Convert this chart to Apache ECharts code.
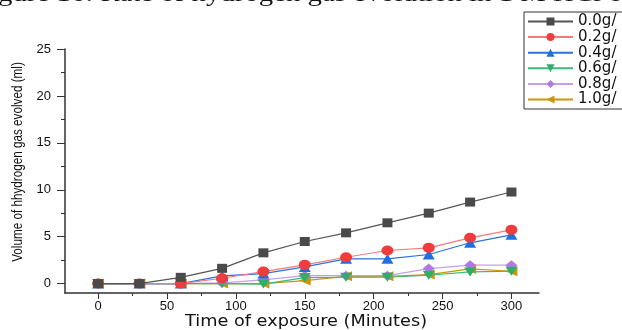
<!DOCTYPE html>
<html><head><meta charset="utf-8">
<script src="https://cdn.jsdelivr.net/npm/echarts@6/dist/echarts.min.js"></script>
<style>html,body{margin:0;padding:0;background:#fff;overflow:hidden}#c{width:622px;height:330px}</style>
</head><body><div id="c"></div>
<script>
const times = [0, 30, 60, 90, 120, 150, 180, 210, 240, 270, 300];
const seriesNames = ['0.0g/', '0.2g/', '0.4g/', '0.6g/', '0.8g/', '1.0g/'];
const s00 = [0, 0, 0.67, 1.63, 3.28, 4.49, 5.41, 6.48, 7.51, 8.69, 9.76];
const s02 = [0, 0, 0, 0.57, 1.28, 2.0, 2.81, 3.53, 3.81, 4.88, 5.73];
const s04 = [0, 0, 0, 0.82, 1.07, 1.78, 2.64, 2.64, 3.1, 4.35, 5.2];
const s06 = [0, 0, 0, 0, -0.05, 0.64, 0.68, 0.68, 0.89, 1.25, 1.32];
const s08 = [0, 0, 0, 0.07, 0.39, 0.85, 0.85, 0.85, 1.6, 1.96, 1.96];
const s10 = [0, 0, 0, 0, 0, 0.32, 0.78, 0.78, 0.96, 1.57, 1.32];
const xTicks = [0, 50, 100, 150, 200, 250, 300];
const xMinor = [25, 75, 125, 175, 225, 275];
const yTicks = [0, 5, 10, 15, 20, 25];
const yMinor = [2.5, 7.5, 12.5, 17.5, 22.5];
const titleText = 'gure 16: Rate of hydrogen gas evolution in 1 M HCl of';
const xName = 'Time of exposure (Minutes)';
const yName = 'Volume of hhydrogen gas evolved (ml)';

const values = [s00, s02, s04, s06, s08, s10];
const lineColors = ['#555555', '#f77a7a', '#2a72e0', '#3cb878', '#c49ef0', '#c9960c'];
const markColors = ['#4a4a4a', '#f03c3c', '#1f6fe0', '#2fae6a', '#b07ae6', '#c9960c'];
const symbols = ['rect', 'circle', 'triangle', 'path://M0,0 L10,0 L5,9 Z', 'diamond', 'path://M10,0 L10,10 L0,5 Z'];
const sizes = [[10, 9], [12, 10], [12, 10], [12, 9], [12, 10], [12, 10]];

const chart = echarts.init(document.getElementById('c'));
const axisCol = '#333';
const font = '"Liberation Sans", Arial, sans-serif';
chart.setOption({
  animation: false,
  backgroundColor: '#fff',
  graphic: [{
    type: 'text', x: -2, y: -17, scaleX: 1.2,
    style: { text: titleText, font: '24px "Liberation Serif", "Times New Roman", serif', fill: '#111', verticalAlign: 'top', align: 'left' }
  }, {
    type: 'text', x: 306, y: 322, scaleX: 1.18,
    style: { text: xName, font: '15px "DejaVu Sans", sans-serif', fill: '#111', align: 'center', verticalAlign: 'middle' }
  }, {
    type: 'text', x: 18, y: 162, rotation: Math.PI / 2, scaleX: 0.78,
    style: { text: yName, font: '15px "Liberation Sans", Arial, sans-serif', fill: '#111', align: 'center', verticalAlign: 'middle' }
  }],
  legend: {
    left: 524, top: 12, orient: 'vertical',
    itemWidth: 45, itemHeight: 10, itemGap: 0.6,
    borderColor: '#333', borderWidth: 1, borderRadius: 0,
    padding: [2, 40, 2, 3],
    textStyle: { fontFamily: '"DejaVu Sans", sans-serif', fontSize: 15, color: '#111' },
    data: seriesNames
  },
  grid: { left: 65, right: 83, top: 49, bottom: 37, containLabel: false, outerBoundsMode: 'none' },
  xAxis: [{
    type: 'value', min: -24, max: 320,
    axisLine: { show: true, onZero: false, lineStyle: { color: axisCol, width: 1.5 } },
    axisTick: { show: true, length: 6, customValues: xTicks, lineStyle: { color: axisCol } },
    axisLabel: { customValues: xTicks, fontFamily: font, fontSize: 13, color: '#111', margin: 7 },
    splitLine: { show: false }
  }, {
    type: 'value', min: -24, max: 320, position: 'bottom',
    axisLine: { show: false, onZero: false },
    axisTick: { show: true, length: 3, customValues: xMinor, lineStyle: { color: axisCol } },
    axisLabel: { show: false }, splitLine: { show: false }
  }],
  yAxis: [{
    type: 'value', min: -1, max: 25,
    axisLine: { show: true, onZero: false, lineStyle: { color: axisCol, width: 1.5 } },
    axisTick: { show: true, length: 8, customValues: yTicks, lineStyle: { color: axisCol } },
    axisLabel: { customValues: yTicks, fontFamily: font, fontSize: 13, color: '#111', margin: 14 },
    splitLine: { show: false }
  }, {
    type: 'value', min: -1, max: 25, position: 'left',
    axisLine: { show: false, onZero: false },
    axisTick: { show: true, length: 4, customValues: yMinor, lineStyle: { color: axisCol } },
    axisLabel: { show: false }, splitLine: { show: false }
  }],
  series: seriesNames.map((n, i) => ({
    name: n, type: 'line',
    data: times.map((t, j) => [t, values[i][j]]),
    symbol: symbols[i], symbolSize: sizes[i], showSymbol: true,
    lineStyle: { color: lineColors[i], width: 1.2 },
    itemStyle: { color: markColors[i], borderWidth: 0 },
    z: 10 - i
  }))
});
</script></body></html>
